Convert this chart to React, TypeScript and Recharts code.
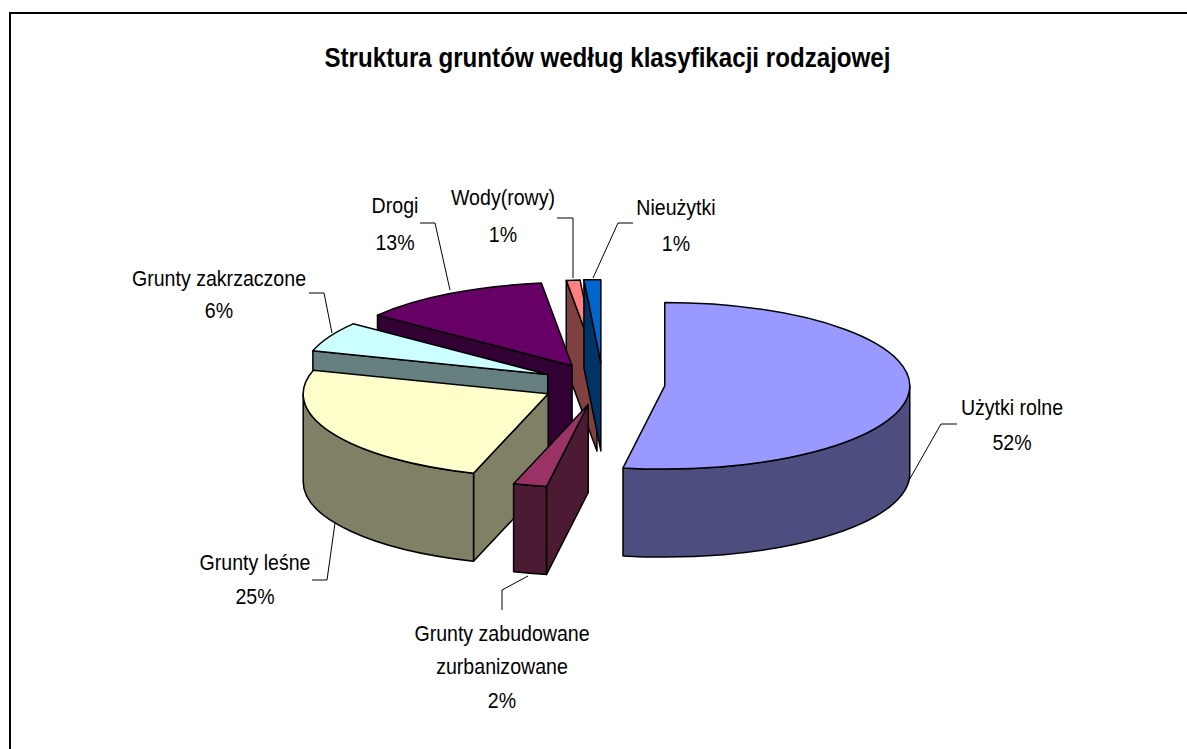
import { PieChart, Pie } from 'recharts';

const categories = ['Użytki rolne', 'Grunty zabudowane\nzurbanizowane', 'Grunty leśne', 'Grunty zakrzaczone', 'Drogi', 'Wody(rowy)', 'Nieużytki'];
const shares = [52.7, 2.2, 24.65, 5.8, 12.6, 0.9, 1.1];
const percentLabels = ['52%', '2%', '25%', '6%', '13%', '1%', '1%'];
const topColors = ['#9999FF', '#993366', '#FFFFCC', '#CCFFFF', '#660066', '#FF8080', '#0066CC'];
const sideColors = ['#4D4D80', '#4D1A33', '#808066', '#668080', '#330033', '#804040', '#003366'];

// back to front, so nearer slices cover the ones behind them
const drawOrder = [5, 6, 4, 3, 2, 1, 0];

// first baseline of each label block, its line gap, then its leader line
const labelCenters = [[1012, 415], [502, 641], [255, 570], [219, 286], [395, 213], [503, 205], [676, 215]];
const labelGaps = [35, 33.5, 34, 32, 37, 37, 36];
const leaderLines = [
  [[957, 424], [941, 424], [908, 482]],
  [[502, 610], [502, 590], [528, 576]],
  [[312, 580], [327, 580], [335, 523]],
  [[309, 293], [324, 293], [332, 333]],
  [[420, 223], [435, 223], [450, 290]],
  [[557, 218], [573, 218], [573, 278]],
  [[633, 223], [618, 223], [593, 278]],
];

const chartData = categories.map((name, i) => ({ name, value: shares[i] }));

const SQUASH = 0.34;
const DEPTH = 88;
const EXPLODE = 62;
const RAD = Math.PI / 180;

function Slice3D(props: any) {
  const { cx, cy, outerRadius, startAngle, endAngle, midAngle, index } = props;
  const ox = cx + EXPLODE * Math.cos(midAngle * RAD);
  const oy = cy - EXPLODE * SQUASH * Math.sin(midAngle * RAD);
  const rx = outerRadius;
  const ry = outerRadius * SQUASH;
  const pt = (a: number, drop = 0): [number, number] => [
    ox + rx * Math.cos(a * RAD),
    oy - ry * Math.sin(a * RAD) + drop,
  ];
  const wall = (a: number) => {
    const p = pt(a);
    return `M${ox},${oy} L${p[0]},${p[1]} L${p[0]},${p[1] + DEPTH} L${ox},${oy + DEPTH} Z`;
  };
  const side = sideColors[index];

  // outer wall shows only on the front half of the ellipse
  const from = Math.min(startAngle, 0);
  const to = Math.max(endAngle, -180);
  let rim = null;
  if (from > to) {
    const a = pt(from);
    const b = pt(to);
    rim = `M${a[0]},${a[1]} A${rx},${ry} 0 0 1 ${b[0]},${b[1]} L${b[0]},${b[1] + DEPTH} A${rx},${ry} 0 0 0 ${a[0]},${a[1] + DEPTH} Z`;
  }

  const s = pt(startAngle);
  const e = pt(endAngle);
  const large = startAngle - endAngle > 180 ? 1 : 0;
  const top = `M${ox},${oy} L${s[0]},${s[1]} A${rx},${ry} 0 ${large} 1 ${e[0]},${e[1]} Z`;

  return (
    <g stroke="#000" strokeWidth={1.5} strokeLinejoin="round">
      {Math.cos(endAngle * RAD) > 0 && <path d={wall(endAngle)} fill={side} />}
      {Math.cos(startAngle * RAD) < 0 && <path d={wall(startAngle)} fill={side} />}
      {rim && <path d={rim} fill={side} />}
      <path d={top} fill={topColors[index]} />
    </g>
  );
}

function SliceLabel(props: any) {
  const { index } = props;
  const [x, y] = labelCenters[index];
  const lines = [...categories[index].split('\n'), percentLabels[index]];
  return (
    <g>
      <polyline
        points={leaderLines[index].map((p) => p.join(',')).join(' ')}
        fill="none"
        stroke="#000"
        strokeWidth={1}
      />
      <text
        transform={`translate(${x} 0) scale(0.89 1)`}
        textAnchor="middle"
        fontFamily="Liberation Sans"
        fontSize={22}
        fill="#000"
      >
        {lines.map((line, i) => (
          <tspan key={i} x={0} y={y + i * labelGaps[index]}>
            {line}
          </tspan>
        ))}
      </text>
    </g>
  );
}

export default function App() {
  return (
    <div style={{ position: 'absolute', left: 0, top: 0, width: 1187, height: 749, background: '#fff' }}>
      <div style={{ position: 'absolute', left: 9, top: 12, width: 1178, height: 737, borderLeft: '2px solid #000', borderTop: '2px solid #000', boxSizing: 'border-box' }} />
      <div style={{ position: 'absolute', left: 0, top: 41, width: 1215, textAlign: 'center', fontFamily: 'Liberation Sans', fontWeight: 700, fontSize: 27, lineHeight: '34px', color: '#000', whiteSpace: 'nowrap', transform: 'scaleX(0.894)' }}>
        Struktura gruntów według klasyfikacji rodzajowej
      </div>
      <div style={{ position: 'absolute', left: 0, top: 0 }}>
        <PieChart width={1187} height={749} margin={{ top: 0, right: 0, bottom: 0, left: 0 }}>
          {drawOrder.map((slice, n) => (
            <Pie
              key={slice}
              data={chartData}
              dataKey="value"
              nameKey="name"
              cx={603}
              cy={384}
              outerRadius={245}
              startAngle={90}
              endAngle={-270}
              isAnimationActive={false}
              shape={(p: any) => (p.index === slice ? <Slice3D {...p} /> : <g />)}
              label={n === drawOrder.length - 1 ? SliceLabel : false}
              labelLine={false}
            />
          ))}
        </PieChart>
      </div>
    </div>
  );
}
